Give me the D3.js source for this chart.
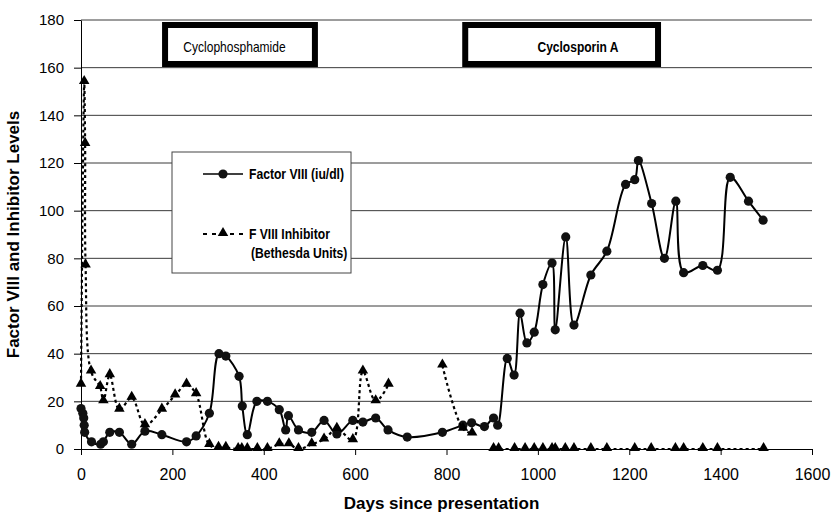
<!DOCTYPE html>
<html>
<head>
<meta charset="utf-8">
<script src="https://cdn.jsdelivr.net/npm/d3@7"></script>
<style>
  body { margin: 0; background: #fff; }
  text { font-family: Arial, "Liberation Sans", sans-serif; }
</style>
</head>
<body>
<div id="chart"></div>
<script>
// Factor VIII (iu/dl)
var f8Days = [0, 4, 6, 7, 8, 23, 43, 49, 63, 84, 111, 140, 177, 231, 252, 281, 302, 317, 346, 353, 364, 385, 408, 434, 448, 454, 476, 505, 532, 560, 595, 617, 645, 672, 714, 791, 836, 855, 883, 903, 912, 933, 948, 961, 976, 992, 1011, 1031, 1038, 1061, 1079, 1116, 1151, 1192, 1212, 1220, 1249, 1277, 1302, 1319, 1361, 1393, 1421, 1461, 1493];
var f8Vals = [17, 15, 13, 10, 7, 3, 2, 3, 7, 7, 2, 7.5, 6, 3, 5.5, 15, 40, 39, 30.5, 18, 6, 20, 20, 16.5, 8, 14, 8, 7, 12, 6.3, 12, 11.3, 13, 8, 5, 7, 10, 11, 9.4, 13, 10, 38, 31, 57, 44.5, 49, 69, 78, 50, 89, 52, 73, 83, 111, 113, 121, 103, 80, 104, 74, 77, 75, 114, 104, 96];

// F VIII inhibitor (Bethesda units), null = gap in the series
var inhDays = [0, 7, 9, 10, 22, 42, 49, 63, 84, 111, 140, 177, 206, 231, 252, 281, 301, 317, 344, 352, 364, 386, 408, 434, 455, 476, 505, 532, 560, 595, 617, 645, 673, null, 791, 836, 856, null, 903, 914, 949, 972, 992, 1011, 1031, 1038, 1060, 1079, 1116, 1151, 1212, 1248, 1301, 1319, 1361, 1393, 1494];
var inhVals = [27, 154, 128, 77, 32.5, 26, 20, 31, 16.5, 21.5, 10, 16.5, 22.5, 27, 23, 1.7, 0.5, 0.5, 0, 0, 0, 0, 0, 2, 2, 0, 2, 4, 8.5, 3.7, 32.5, 20, 27, null, 35, 8.5, 6.5, null, 0, 0, 0, 0, 0, 0, 0, 0, 0, 0, 0, 0, 0, 0, 0, 0, 0, 0, 0];

var xTicks = [0, 200, 400, 600, 800, 1000, 1200, 1400, 1600];
var yTicks = [0, 20, 40, 60, 80, 100, 120, 140, 160, 180];

var treatNames = ["Cyclophosphamide", "Cyclosporin A"];
var treatStart = [184, 841];
var treatEnd = [512, 1263];

var margin = {top: 20, right: 22, bottom: 67, left: 81},
    width = 834 - margin.left - margin.right,
    height = 516 - margin.top - margin.bottom;

var svg = d3.select("#chart")
  .append("svg")
    .attr("width", 834)
    .attr("height", 516)
  .append("g")
    .attr("transform", "translate(" + margin.left + "," + margin.top + ")");

var x = d3.scaleLinear().domain([0, 1600]).range([0, width]);
var y = d3.scaleLinear().domain([0, 180]).range([height, 0]);

// gridlines
svg.selectAll(".grid")
  .data(yTicks.slice(1))
  .enter()
  .append("line")
    .attr("x1", 0)
    .attr("x2", width)
    .attr("y1", function(d) { return y(d); })
    .attr("y2", function(d) { return y(d); })
    .attr("stroke", "#3a3a3a")
    .attr("stroke-width", 1);

// axes
var xAxis = svg.append("g")
  .attr("transform", "translate(0," + height + ")")
  .call(d3.axisBottom(x).tickValues(xTicks).tickFormat(d3.format("d")).tickSize(6).tickPadding(14).tickSizeOuter(0));
xAxis.selectAll("text").style("font-size", "16px").attr("fill", "#000");
xAxis.selectAll("line, path").attr("stroke", "#000");

var yAxis = svg.append("g")
  .call(d3.axisLeft(y).tickValues(yTicks).tickSize(7).tickPadding(10).tickSizeOuter(0));
yAxis.selectAll("text").style("font-size", "15px").attr("fill", "#000");
yAxis.selectAll("line, path").attr("stroke", "#000");

// treatment boxes
var treat = svg.selectAll(".treat")
  .data(treatNames)
  .enter()
  .append("g");
treat.append("rect")
    .attr("x", function(d, i) { return x(treatStart[i]); })
    .attr("y", 5)
    .attr("width", function(d, i) { return x(treatEnd[i]) - x(treatStart[i]); })
    .attr("height", 39)
    .attr("fill", "#fff")
    .attr("stroke", "#000")
    .attr("stroke-width", 6);
// label text is squeezed a bit, the scan is horizontally narrow
var labelX = [153.5, 497];
treat.append("text")
    .attr("transform", function(d, i) { return "translate(" + labelX[i] + ",32) scale(0.86,1)"; })
    .attr("text-anchor", "middle")
    .style("font-size", "14px")
    .style("font-weight", function(d, i) { return i == 1 ? "bold" : "normal"; })
    .text(function(d) { return d; });

// Factor VIII line
var f8 = f8Days.map(function(d, i) { return [d, f8Vals[i]]; });
var line = d3.line()
  .x(function(d) { return x(d[0]); })
  .y(function(d) { return y(d[1]); })
  .curve(d3.curveCatmullRom.alpha(0.5));

svg.append("path")
  .datum(f8)
  .attr("d", line)
  .attr("fill", "none")
  .attr("stroke", "#000")
  .attr("stroke-width", 2);

svg.selectAll(".dot")
  .data(f8)
  .enter()
  .append("circle")
    .attr("cx", function(d) { return x(d[0]); })
    .attr("cy", function(d) { return y(d[1]); })
    .attr("r", 4.6)
    .attr("fill", "#111");

// inhibitor line
var inh = inhDays.map(function(d, i) { return [d, inhVals[i]]; });
var inhLine = d3.line()
  .defined(function(d) { return d[0] !== null; })
  .x(function(d) { return x(d[0]); })
  .y(function(d) { return y(d[1]); })
  .curve(d3.curveCatmullRom.alpha(0.5));

svg.append("path")
  .datum(inh)
  .attr("d", inhLine)
  .attr("fill", "none")
  .attr("stroke", "#000")
  .attr("stroke-width", 2.2)
  .attr("stroke-dasharray", "3,3");

var tri = d3.symbol().type(d3.symbolTriangle).size(48);
svg.selectAll(".tri")
  .data(inh.filter(function(d) { return d[0] !== null; }))
  .enter()
  .append("path")
    .attr("d", tri)
    .attr("transform", function(d) { return "translate(" + x(d[0]) + "," + (y(d[1]) - 1) + ")"; })
    .attr("fill", "#000");

// legend
var lg = svg.append("g").attr("transform", "translate(91,132)");
lg.append("rect")
  .attr("width", 179)
  .attr("height", 121)
  .attr("fill", "#fff")
  .attr("stroke", "#444")
  .attr("stroke-width", 1);
lg.append("line")
  .attr("x1", 31).attr("x2", 71).attr("y1", 22).attr("y2", 22)
  .attr("stroke", "#000").attr("stroke-width", 1.5);
lg.append("circle")
  .attr("cx", 51).attr("cy", 22).attr("r", 4.6).attr("fill", "#111");
lg.append("line")
  .attr("x1", 31).attr("x2", 71).attr("y1", 82).attr("y2", 82)
  .attr("stroke", "#000").attr("stroke-width", 2.2).attr("stroke-dasharray", "4,5");
lg.append("path")
  .attr("d", tri)
  .attr("transform", "translate(51,81)")
  .attr("fill", "#000");

var lgText = [["Factor VIII (iu/dl)", 77, 27], ["F VIII Inhibitor", 77, 87], ["(Bethesda Units)", 79, 106]];
lg.selectAll(".lt")
  .data(lgText)
  .enter()
  .append("text")
    .attr("transform", function(d) { return "translate(" + d[1] + "," + d[2] + ") scale(0.81,1)"; })
    .style("font-size", "15px")
    .style("font-weight", "bold")
    .text(function(d) { return d[0]; });

// axis labels
svg.append("text")
  .attr("x", width / 2 - 5)
  .attr("y", height + 60)
  .attr("text-anchor", "middle")
  .style("font-size", "17px")
  .style("font-weight", "bold")
  .text("Days since presentation");

svg.append("text")
  .attr("transform", "rotate(-90)")
  .attr("x", -(height / 2) + 0)
  .attr("y", -62)
  .attr("text-anchor", "middle")
  .style("font-size", "17px")
  .style("font-weight", "bold")
  .text("Factor VIII and Inhibitor Levels");
</script>
</body>
</html>
